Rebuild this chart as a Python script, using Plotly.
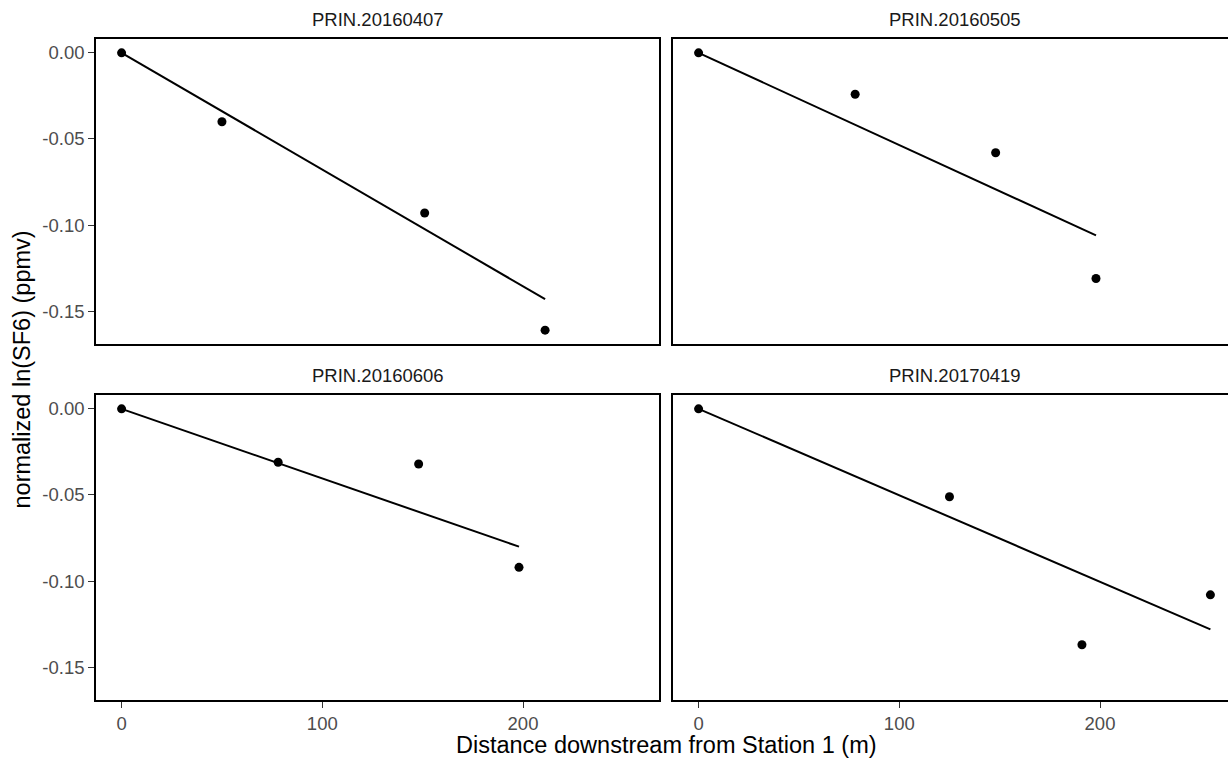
import plotly.graph_objects as go

# ---------------- data ----------------
facets = ["PRIN.20160407", "PRIN.20160505", "PRIN.20160606", "PRIN.20170419"]

dist_20160407 = [0, 50, 151, 211]
sf6_20160407 = [0.0, -0.040, -0.093, -0.161]
fitx_20160407 = [0, 211]
fity_20160407 = [0.0, -0.143]

dist_20160505 = [0, 78, 148, 198]
sf6_20160505 = [0.0, -0.024, -0.058, -0.131]
fitx_20160505 = [0, 198]
fity_20160505 = [0.0, -0.106]

dist_20160606 = [0, 78, 148, 198]
sf6_20160606 = [0.0, -0.031, -0.032, -0.092]
fitx_20160606 = [0, 198]
fity_20160606 = [0.0, -0.080]

dist_20170419 = [0, 125, 191, 255]
sf6_20170419 = [0.0, -0.051, -0.137, -0.108]
fitx_20170419 = [0, 255]
fity_20170419 = [0.0, -0.128]

x_ticks = [0, 100, 200]
x_ticktext = ["0", "100", "200"]
y_ticks = [0.0, -0.05, -0.10, -0.15]
y_ticktext = ["0.00", "-0.05", "-0.10", "-0.15"]

x_title = "Distance downstream from Station 1 (m)"
y_title = "normalized ln(SF6) (ppmv)"

points = [
    (dist_20160407, sf6_20160407, fitx_20160407, fity_20160407),
    (dist_20160505, sf6_20160505, fitx_20160505, fity_20160505),
    (dist_20160606, sf6_20160606, fitx_20160606, fity_20160606),
    (dist_20170419, sf6_20170419, fitx_20170419, fity_20170419),
]

# ---------------- layout geometry (pixels) ----------------
W, H = 1228, 759
left_px = (96, 659)
right_px = (673, 1236)  # panel continues past the visible edge
top_px = (39, 344)
bot_px = (395, 700)

all_x = [v for p in points for v in p[0]]
all_y = [v for p in points for v in p[1]]
xmin, xmax = min(all_x), max(all_x)
ymin, ymax = min(all_y), max(all_y)
xpad = 0.05 * (xmax - xmin)
ypad = 0.05 * (ymax - ymin)
xr = [xmin - xpad, xmax + xpad]
yr = [ymin - ypad, ymax + ypad]

# visible part of the right-hand panels
frac_vis = (W - right_px[0]) / (right_px[1] - right_px[0])
xr_right = [xr[0], xr[0] + (xr[1] - xr[0]) * frac_vis]


def xdom(px):
    return [px[0] / W, min(px[1], W) / W]


def ydom(px):
    return [1 - px[1] / H, 1 - px[0] / H]


panels = [
    dict(xd=xdom(left_px), yd=ydom(top_px), xr=xr, left=True, bottom=False),
    dict(xd=xdom(right_px), yd=ydom(top_px), xr=xr_right, left=False, bottom=False),
    dict(xd=xdom(left_px), yd=ydom(bot_px), xr=xr, left=True, bottom=True),
    dict(xd=xdom(right_px), yd=ydom(bot_px), xr=xr_right, left=False, bottom=True),
]

fig = go.Figure()
font_family = "Liberation Sans, Arial, sans-serif"
tick_font = dict(family=font_family, size=18.5, color="#4d4d4d")

annotations = []
for i, (p, (dx, dy, fx, fy)) in enumerate(zip(panels, points), start=1):
    xa = "x" if i == 1 else f"x{i}"
    ya = "y" if i == 1 else f"y{i}"
    fig.add_trace(go.Scatter(x=fx, y=fy, mode="lines", line=dict(color="black", width=2),
                             xaxis=xa, yaxis=ya, showlegend=False, hoverinfo="skip"))
    fig.add_trace(go.Scatter(x=dx, y=dy, mode="markers", marker=dict(color="black", size=9),
                             xaxis=xa, yaxis=ya, showlegend=False, cliponaxis=False))
    xkey = "xaxis" if i == 1 else f"xaxis{i}"
    ykey = "yaxis" if i == 1 else f"yaxis{i}"
    fig.update_layout(**{
        xkey: dict(domain=p["xd"], range=p["xr"], anchor=ya, showgrid=False, zeroline=False,
                   showline=True, linecolor="black", linewidth=1.6, mirror=True,
                   tickmode="array", tickvals=x_ticks, ticktext=x_ticktext,
                   ticks="outside" if p["bottom"] else "", ticklen=6, tickwidth=1.2,
                   tickcolor="#333333", showticklabels=p["bottom"], tickfont=tick_font),
        ykey: dict(domain=p["yd"], range=yr, anchor=xa, showgrid=False, zeroline=False,
                   showline=True, linecolor="black", linewidth=1.6, mirror=p["left"],
                   tickmode="array", tickvals=y_ticks, ticktext=y_ticktext,
                   ticks="outside" if p["left"] else "", ticklen=6, tickwidth=1.2,
                   tickcolor="#333333", showticklabels=p["left"], tickfont=tick_font),
    })
    # strip label centred over the full panel width
    full_px = left_px if p["left"] else right_px
    cx = (full_px[0] + full_px[1]) / 2 / W
    strip_y = (top_px[0] if not p["bottom"] else bot_px[0]) - 19.5
    annotations.append(dict(text=facets[i - 1], x=cx, y=1 - strip_y / H, xref="paper", yref="paper",
                            showarrow=False, xanchor="center", yanchor="middle",
                            font=dict(family=font_family, size=18.5, color="#1a1a1a")))

annotations.append(dict(text=x_title, x=((left_px[0] + right_px[1]) / 2) / W, y=1 - 745 / H,
                        xref="paper", yref="paper", showarrow=False, xanchor="center", yanchor="middle",
                        font=dict(family=font_family, size=23.5, color="black")))
annotations.append(dict(text=y_title, x=21 / W, y=1 - ((top_px[0] + bot_px[1]) / 2) / H,
                        xref="paper", yref="paper", showarrow=False, xanchor="center", yanchor="middle",
                        textangle=-90, font=dict(family=font_family, size=23.5, color="black")))

fig.update_layout(width=W, height=H, autosize=False, margin=dict(l=0, r=0, t=0, b=0),
                  plot_bgcolor="white", paper_bgcolor="white", annotations=annotations,
                  font=dict(family=font_family))

fig.write_html("out.html")
